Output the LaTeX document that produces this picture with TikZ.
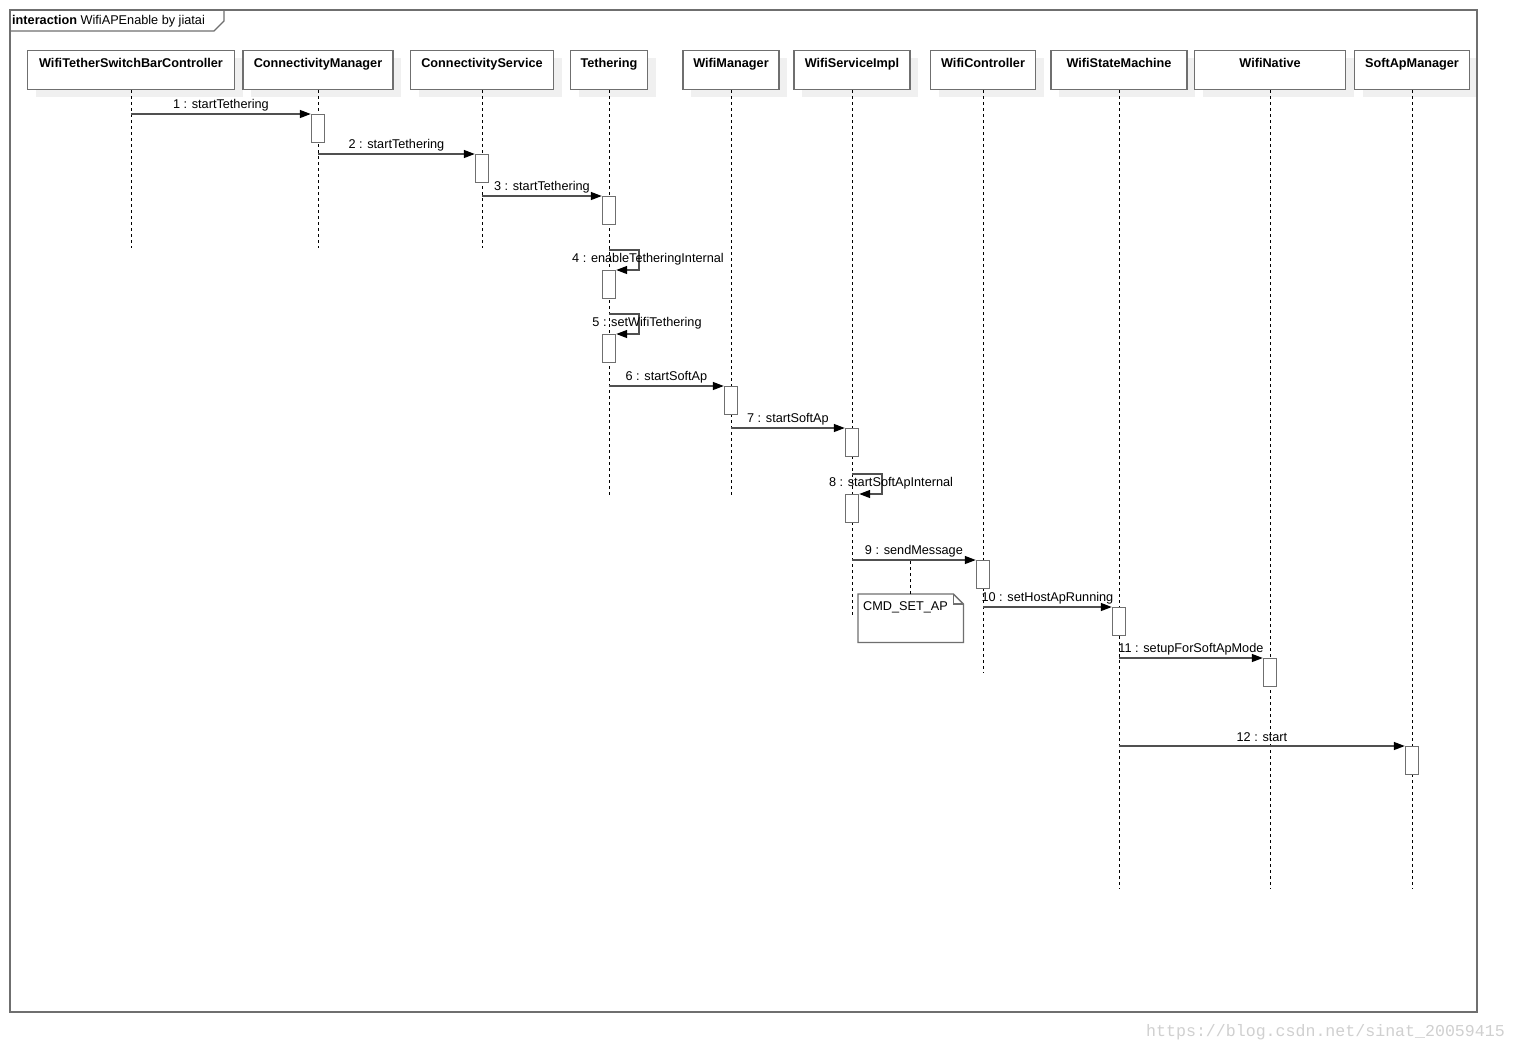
\documentclass[tikz,border=0pt]{standalone}
\usepackage{fontspec}
\setmainfont{Liberation Sans}
\newfontfamily\wmfont{Liberation Mono}
\usetikzlibrary{arrows.meta,shadows,calc}
\definecolor{boxgray}{HTML}{6F6F6F}
\definecolor{linegray}{HTML}{505050}
\definecolor{shadowgray}{HTML}{F0F0F0}
\definecolor{wmgray}{HTML}{D0D0D0}
\newcommand\fsz{\fontsize{12.7pt}{15pt}\selectfont}
\begin{document}
\begin{tikzpicture}[x=1pt,y=-1pt,
  font=\fsz,
  head/.style={draw=boxgray, line width=1.4pt, fill=white, inner sep=0pt,
    minimum height=39pt, text height=17pt, text depth=22pt, font=\bfseries\fsz,
    drop shadow={shadow xshift=8pt, shadow yshift=-7pt, fill=shadowgray, opacity=1},
    anchor=north},
  act/.style={draw=boxgray, line width=1.4pt, fill=white, minimum width=13pt,
    minimum height=28pt, inner sep=0pt, anchor=north},
  life/.style={draw=black, line width=0.9pt, dash pattern=on 3pt off 3pt},
  msg/.style={draw=linegray, line width=1.3pt, -{Triangle[length=11pt,width=8pt,color=black]}},
  lbl/.style={inner sep=1pt, text=black},
  mlbl/.style={lbl, midway, yshift=9pt},
  frame/.style={draw=boxgray, line width=1.3pt},
]
\fill[white] (0,0) rectangle (1517,1053);
\useasboundingbox (0,0) rectangle (1517,1053);

% heads
\node[head, minimum width=207pt] (h1) at (131,50) {WifiTetherSwitchBarController};
\node[head, minimum width=150pt] (h2) at (318,50) {ConnectivityManager};
\node[head, minimum width=143pt] (h3) at (482,50) {ConnectivityService};
\node[head, minimum width=77pt]  (h4) at (609,50) {Tethering};
\node[head, minimum width=96pt]  (h5) at (731,50) {WifiManager};
\node[head, minimum width=116pt] (h6) at (852,50) {WifiServiceImpl};
\node[head, minimum width=105pt] (h7) at (983,50) {WifiController};
\node[head, minimum width=136pt] (h8) at (1119,50) {WifiStateMachine};
\node[head, minimum width=151pt] (h9) at (1270,50) {WifiNative};
\node[head, minimum width=115pt] (h10) at (1412,50) {SoftApManager};

% frame
\draw[frame] (10,10) rectangle (1477,1012);
\draw[frame] (10,31) -- (214,31) -- (224,21) -- (224,10);
\node[anchor=west, inner sep=0pt] (ftitle) at (12,21) {\textbf{interaction} WifiAPEnable by jiatai};

% lifelines
\coordinate (e1) at (131,248);
\coordinate (e2) at (318,248);
\coordinate (e3) at (482,248);
\coordinate (e4) at (609,495);
\coordinate (e5) at (731,495);
\coordinate (e6) at (852,615);
\coordinate (e7) at (983,673);
\coordinate (e8) at (1119,889);
\coordinate (e9) at (1270,889);
\coordinate (e10) at (1412,889);
\foreach \i in {1,...,10} {\draw[life] (h\i.south) -- (e\i);}

% activations
\node[act] (a1) at (318,114) {};
\node[act] (a2) at (482,154) {};
\node[act] (a3) at (609,196) {};
\node[act] (a4) at (609,270) {};
\node[act] (a5) at (609,334) {};
\node[act] (a6) at (731,386) {};
\node[act] (a7) at (852,428) {};
\node[act] (a8) at (852,494) {};
\node[act] (a9) at (983,560) {};
\node[act] (a10) at (1119,607) {};
\node[act] (a11) at (1270,658) {};
\node[act] (a12) at (1412,746) {};

% messages
\draw[msg] (h1 |- a1.north) -- node[mlbl] (l1) {1 : startTethering} (a1.north west);
\draw[msg] (h2 |- a2.north) -- node[mlbl] (l2) {2 : startTethering} (a2.north west);
\draw[msg] (h3 |- a3.north) -- node[mlbl] (l3) {3 : startTethering} (a3.north west);
\draw[msg] ($(h4 |- a4.north)+(0,-20)$) -- ++(30,0) -- ++(0,20) -- (a4.north east);
\node[lbl] (l4) at (648,259.5) {4 : enableTetheringInternal};
\draw[msg] ($(h4 |- a5.north)+(0,-20)$) -- ++(30,0) -- ++(0,20) -- (a5.north east);
\node[lbl] (l5) at (647,323.5) {5 : setWifiTethering};
\draw[msg] (h4 |- a6.north) -- node[mlbl] (l6) {6 : startSoftAp} (a6.north west);
\draw[msg] (h5 |- a7.north) -- node[mlbl] (l7) {7 : startSoftAp} (a7.north west);
\draw[msg] ($(h6 |- a8.north)+(0,-20)$) -- ++(30,0) -- ++(0,20) -- (a8.north east);
\node[lbl] (l8) at (891,483.5) {8 : startSoftApInternal};
\draw[msg] (h6 |- a9.north) -- node[mlbl] (l9) {9 : sendMessage} (a9.north west);
\draw[msg] (h7 |- a10.north) -- node[mlbl] (l10) {10 : setHostApRunning} (a10.north west);
\draw[msg] (h8 |- a11.north) -- node[mlbl] (l11) {11 : setupForSoftApMode} (a11.north west);
\draw[msg] (h8 |- a12.north) -- node[mlbl] (l12) {12 : start} (a12.north west);

% note
\node[anchor=north west, minimum width=105pt, minimum height=48pt, inner sep=0pt] (note) at (858,594) {};
\draw[frame, fill=white] (note.north west) -- ([xshift=-10pt]note.north east) -- ([yshift=-10pt]note.north east) -- (note.south east) -- (note.south west) -- cycle;
\draw[frame] ([xshift=-10pt]note.north east) |- ([yshift=-10pt]note.north east);
\node[lbl, anchor=west] (notetext) at (862,607) {CMD\_SET\_AP};
\draw[life] (note.north) -- (note.north |- a9.north);

% watermark
\node[anchor=west, inner sep=0pt, text=wmgray, font=\wmfont\fontsize{16.6pt}{18pt}\selectfont] (wm) at (1146,1032) {https://blog.csdn.net/sinat\_20059415};
\end{tikzpicture}
\end{document}
